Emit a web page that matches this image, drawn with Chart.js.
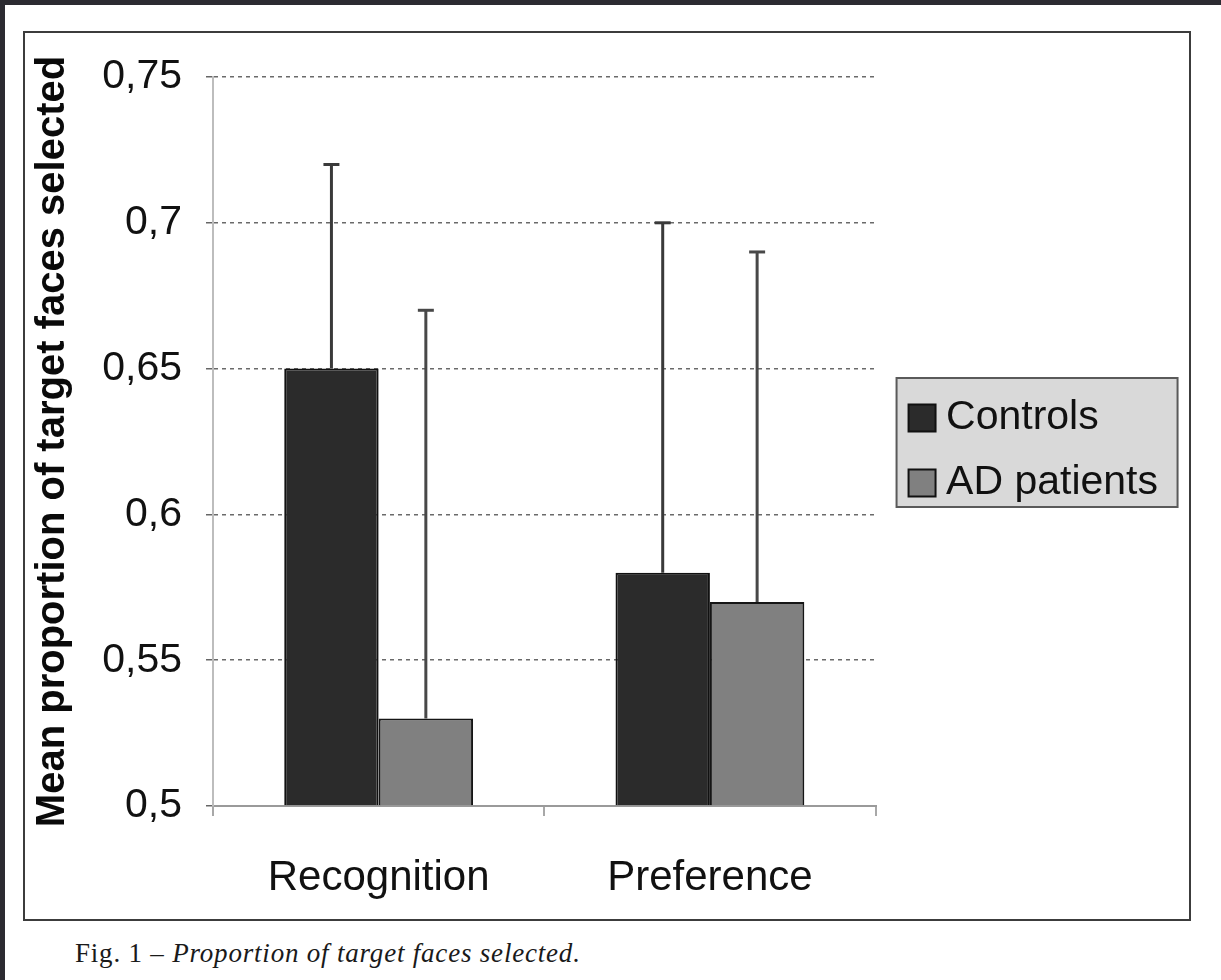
<!DOCTYPE html>
<html>
<head>
<meta charset="utf-8">
<script src="https://cdn.jsdelivr.net/npm/chart.js@4"></script>
<style>
  html, body { margin: 0; padding: 0; background: #ffffff; }
  body { width: 1221px; height: 980px; position: relative; overflow: hidden; }
  .band-top { position: absolute; left: 0; top: 0; width: 1221px; height: 5px; background: #2c2b31; }
  .band-left { position: absolute; left: 0; top: 0; width: 5px; height: 980px; background: #2c2b31; }
  .frame { position: absolute; left: 23px; top: 31px; width: 1168px; height: 890px;
           box-sizing: border-box; border: 2px solid #3c3c3c; }
  #wrap { position: absolute; left: 24px; top: 32px; width: 1166px; height: 888px; }
  .caption { position: absolute; left: 75px; top: 940px; font-family: "Liberation Serif", "DejaVu Serif", serif;
             font-size: 27px; line-height: 27px; letter-spacing: 0.8px; color: #1a1a1a; white-space: nowrap; }
  .caption i { font-style: italic; }
</style>
</head>
<body>
<div class="band-top"></div>
<div class="band-left"></div>
<div class="frame"></div>
<div id="wrap"><canvas id="chart" width="1166" height="888"></canvas></div>
<div class="caption">Fig. 1 &ndash; <i>Proportion of target faces selected.</i></div>
<script>
// Groups on the x axis
const categories = ['Recognition', 'Preference'];
// Mean proportion of target faces selected
const controls = [0.65, 0.58];
const adPatients = [0.53, 0.57];
// Top ends of the error bars
const controlsUpper = [0.72, 0.70];
const adPatientsUpper = [0.67, 0.69];
// Value-axis tick labels (decimal comma)
const yTickValues = [0.5, 0.55, 0.6, 0.65, 0.7, 0.75];
const yTickLabels = ['0,5', '0,55', '0,6', '0,65', '0,7', '0,75'];

const FONT = '"Liberation Sans", Arial, Helvetica, sans-serif';

// Upward error bars drawn from each bar's top to the upper value
const errorBars = {
  id: 'errorBars',
  afterDatasetsDraw(chart) {
    const ctx = chart.ctx;
    const y = chart.scales.y;
    ctx.save();
    chart.data.datasets.forEach((ds, di) => {
      const meta = chart.getDatasetMeta(di);
      meta.data.forEach((bar, i) => {
        const top = y.getPixelForValue(ds.upper[i]);
        const x = bar.x;
        ctx.strokeStyle = ds.errorColor;
        ctx.lineWidth = 3;
        ctx.beginPath();
        ctx.moveTo(x, bar.y);
        ctx.lineTo(x, top);
        ctx.stroke();
        ctx.beginPath();
        ctx.moveTo(x - 8, top);
        ctx.lineTo(x + 8, top);
        ctx.stroke();
      });
    });
    ctx.restore();
  }
};

// Nudge the legend box so it sits beside the plot, clear of the axes
const legendPlacement = {
  id: 'legendPlacement',
  afterLayout(chart) {
    const lg = chart.legend;
    if (!lg) return;
    const dx = 19, dy = -48;
    lg.left += dx; lg.right += dx;
    lg.top += dy; lg.bottom += dy;
  }
};

// Grey panel with a border behind the legend entries
const legendPanel = {
  id: 'legendPanel',
  beforeDraw(chart) {
    const lg = chart.legend;
    if (!lg || !lg.legendHitBoxes || !lg.legendHitBoxes.length) return;
    const boxes = lg.legendHitBoxes;
    const lab = lg.options.labels;
    const fs = lab.font.size;
    const sqLeft = boxes[0].left + lab.boxWidth / 2 - lab.boxHeight / 2;
    const top = boxes[0].top + fs / 2 - 40;
    const bottom = boxes[boxes.length - 1].top + fs / 2 + 24;
    const left = sqLeft - 12;
    const right = sqLeft + 269;
    const ctx = chart.ctx;
    ctx.save();
    ctx.fillStyle = '#d9d9d9';
    ctx.fillRect(left, top, right - left, bottom - top);
    ctx.strokeStyle = '#5a5a5a';
    ctx.lineWidth = 2;
    ctx.strokeRect(left, top, right - left, bottom - top);
    ctx.restore();
  }
};

new Chart(document.getElementById('chart'), {
  type: 'bar',
  data: {
    labels: categories,
    datasets: [
      {
        label: 'Controls',
        data: controls,
        upper: controlsUpper,
        base: 0.5,
        backgroundColor: '#2b2b2b',
        borderColor: '#111111',
        borderWidth: 2,
        errorColor: '#3a3a3a'
      },
      {
        label: 'AD patients',
        data: adPatients,
        upper: adPatientsUpper,
        base: 0.5,
        backgroundColor: '#808080',
        borderColor: '#151515',
        borderWidth: 2,
        errorColor: '#484848'
      }
    ]
  },
  options: {
    responsive: false,
    animation: false,
    devicePixelRatio: 1,
    layout: { padding: { top: 45, right: 41, bottom: 0, left: 0 } },
    datasets: { bar: { categoryPercentage: 0.57, barPercentage: 1.0 } },
    plugins: {
      tooltip: { enabled: false },
      legend: {
        position: 'right',
        align: 'center',
        labels: {
          usePointStyle: true,
          pointStyle: 'rect',
          boxWidth: 7,
          boxHeight: 27,
          padding: 24,
          color: '#111111',
          font: { family: FONT, size: 41 },
          generateLabels(chart) {
            return chart.data.datasets.map((ds, i) => ({
              text: ds.label,
              fillStyle: ds.backgroundColor,
              strokeStyle: '#111111',
              lineWidth: 2,
              pointStyle: 'rect',
              datasetIndex: i,
              hidden: false,
              fontColor: '#111111'
            }));
          }
        }
      }
    },
    scales: {
      x: {
        offset: true,
        grid: {
          offset: true,
          drawOnChartArea: false,
          drawTicks: true,
          tickLength: 10,
          color: '#a8a8a8',
          lineWidth: 2
        },
        border: { display: true, color: '#9a9a9a', width: 2 },
        ticks: {
          color: '#111111',
          padding: 37,
          font: { family: FONT, size: 42 }
        },
        afterFit(scale) { scale.height = 114; }
      },
      y: {
        min: 0.5,
        max: 0.75,
        afterBuildTicks(scale) {
          scale.ticks = yTickValues.map(v => ({ value: v }));
        },
        grid: {
          color: '#6a6a6a',
          lineWidth: 1.5,
          tickLength: 7,
          tickColor: '#666666',
          tickBorderDash: []
        },
        // border.dash sets the dash pattern of the horizontal grid lines
        border: { display: true, color: '#bdbdbd', width: 2, dash: [4, 4] },
        ticks: {
          color: '#111111',
          padding: 24,
          font: { family: FONT, size: 41 },
          callback(value, index) { return yTickLabels[index]; }
        },
        title: {
          display: true,
          text: 'Mean proportion of target faces selected',
          color: '#0a0a0a',
          padding: { top: 5, bottom: 0 },
          font: { family: FONT, size: 40, weight: 'bold' }
        },
        afterFit(scale) {
          scale.width = 189;
          // the plot top is fixed by the layout padding alone
          scale.paddingTop = 0;
          scale.paddingBottom = 0;
        }
      }
    }
  },
  plugins: [legendPlacement, legendPanel, errorBars]
});
</script>
</body>
</html>
